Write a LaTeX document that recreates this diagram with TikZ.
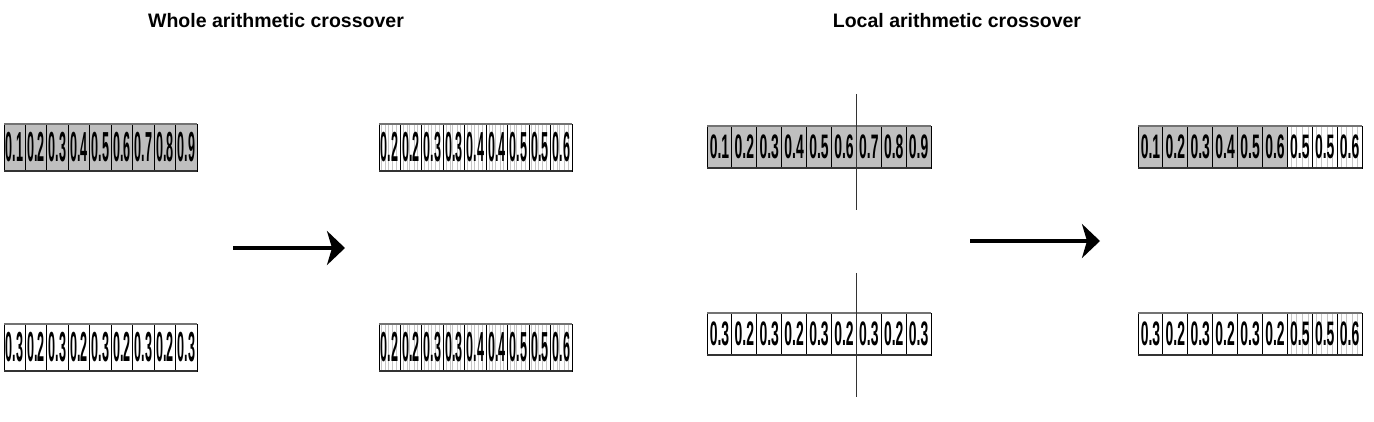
\documentclass[tikz,border=0pt]{standalone}
\usepackage{fontspec}
\usepackage{graphicx}
\setmainfont{Liberation Sans}
\usetikzlibrary{arrows.meta}
\usetikzlibrary{calc}
\usetikzlibrary{backgrounds}

\begin{document}
\begin{tikzpicture}[x=1pt, y=-1pt,
                          wholecell/.style={rectangle, draw, line width=0.9pt, inner sep=0pt, outer sep=0pt, minimum width=21.45pt, minimum height=47pt, font=\fontsize{42}{42}\selectfont\bfseries},
                          localcell/.style={rectangle, draw, line width=0.9pt, inner sep=0pt, outer sep=0pt, minimum width=24.9pt, minimum height=42pt, font=\fontsize{34}{34}\selectfont\bfseries},
                          shaded/.style={fill=gray!50},
                          topedge/.style={line width=1.4pt, black!55},
                          botedge/.style={line width=2pt, black!80},
                          hatch/.style={gray!45, line width=0.5pt},
                          cutline/.style={line width=1.2pt, black!80},
                          bigarrow/.style={line width=4pt, -{Stealth[length=18pt, width=34pt, inset=5pt]}},
                          titletext/.style={font=\fontsize{19.5}{22}\selectfont\bfseries},
                      ]
                      \useasboundingbox (0,0) rectangle (1374,422);

                      %Titles
                      \node[titletext]   (wtitle)   at (276,21)    {Whole arithmetic crossover};
                      \node[titletext]   (ltitle)   at (957,21)    {Local arithmetic crossover};

                      %Whole crossover
                      \foreach \v [count=\i] in {0.1,0.2,0.3,0.4,0.5,0.6,0.7,0.8,0.9}
                          \node[wholecell, shaded] (wpa\i) at (4+\i*21.45-10.72,147.5) {\scalebox{0.3}[1]{\v}};
                      \foreach \v [count=\i] in {0.3,0.2,0.3,0.2,0.3,0.2,0.3,0.2,0.3}
                          \node[wholecell] (wpb\i) at (4+\i*21.45-10.72,347.5) {\scalebox{0.3}[1]{\v}};
                      \foreach \v [count=\i] in {0.2,0.2,0.3,0.3,0.4,0.4,0.5,0.5,0.6} {
                          \node[wholecell] (wca\i) at (379+\i*21.45-10.72,147.5) {\scalebox{0.3}[1]{\v}};
                          \node[wholecell] (wcb\i) at (379+\i*21.45-10.72,347.5) {\scalebox{0.3}[1]{\v}};
                      }

                      %Local crossover
                      \foreach \v [count=\i] in {0.1,0.2,0.3,0.4,0.5,0.6,0.7,0.8,0.9}
                          \node[localcell, shaded] (lpa\i) at (707+\i*24.9-12.45,147) {\scalebox{0.41}[1]{\v}};
                      \foreach \v [count=\i] in {0.3,0.2,0.3,0.2,0.3,0.2,0.3,0.2,0.3}
                          \node[localcell] (lpb\i) at (707+\i*24.9-12.45,334) {\scalebox{0.41}[1]{\v}};
                      \foreach \v [count=\i] in {0.1,0.2,0.3,0.4,0.5,0.6}
                          \node[localcell, shaded] (lca\i) at (1138+\i*24.9-12.45,147) {\scalebox{0.41}[1]{\v}};
                      \foreach \v [count=\i from 7] in {0.5,0.5,0.6}
                          \node[localcell] (lca\i) at (1138+\i*24.9-12.45,147) {\scalebox{0.41}[1]{\v}};
                      \foreach \v [count=\i] in {0.3,0.2,0.3,0.2,0.3,0.2,0.5,0.5,0.6}
                          \node[localcell] (lcb\i) at (1138+\i*24.9-12.45,334) {\scalebox{0.41}[1]{\v}};

                      %Edges
                      \foreach \r in {wpa,wpb,wca,wcb,lpa,lpb,lca,lcb} {
                          \draw[topedge] (\r1.north west) -- (\r9.north east);
                          \draw[botedge] (\r1.south west) -- (\r9.south east);
                      }

                      %Hatching
                      \begin{scope}[on background layer]
                          \foreach \i in {1,...,9}
                              \foreach \f in {0.12,0.3,0.42,0.63,0.8}
                                  \foreach \r in {wca,wcb}
                                      \draw[hatch] ($(\r\i.north west)!\f!(\r\i.north east)$) -- ($(\r\i.south west)!\f!(\r\i.south east)$);
                          \foreach \i in {7,8,9}
                              \foreach \f in {0.15,0.35,0.6,0.82}
                                  \foreach \r in {lca,lcb}
                                      \draw[hatch] ($(\r\i.north west)!\f!(\r\i.north east)$) -- ($(\r\i.south west)!\f!(\r\i.south east)$);
                      \end{scope}

                      %Lines
                      \draw[cutline] ([yshift=32pt]lpa6.north east) -- ([yshift=-42pt]lpa6.south east);
                      \draw[cutline] ([yshift=40pt]lpb6.north east) -- ([yshift=-42pt]lpb6.south east);

                      %Arrows
                      \coordinate (wstart) at (233,248);
                      \coordinate (wend)   at (345,248);
                      \coordinate (lstart) at (970,241);
                      \coordinate (lend)   at (1100,241);
                      \draw[bigarrow] (wstart) -- (wend);
                      \draw[bigarrow] (lstart) -- (lend);
                  \end{tikzpicture}
\end{document}
